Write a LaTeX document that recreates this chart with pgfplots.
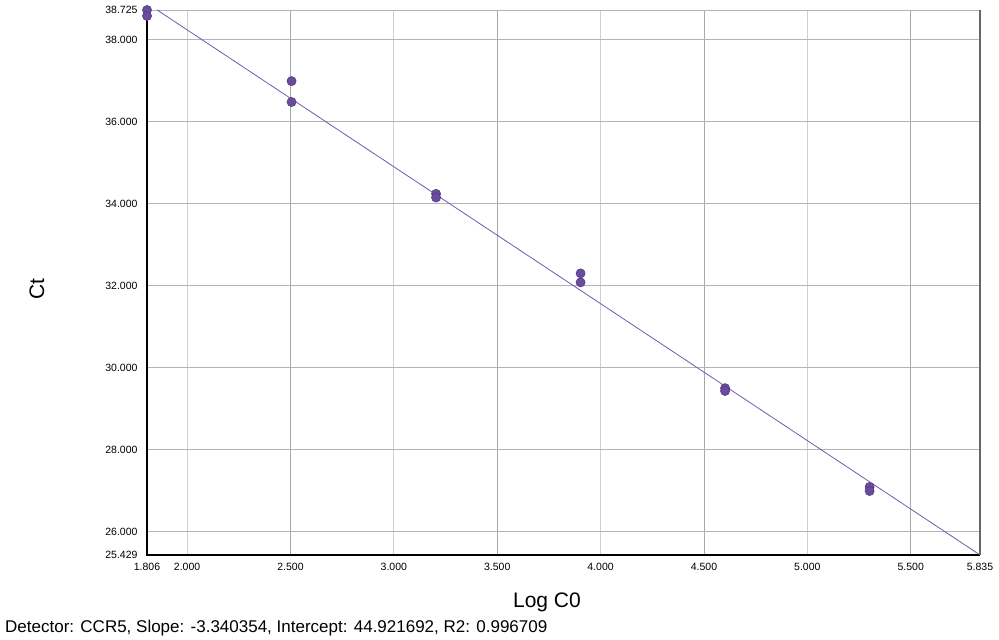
\documentclass[border=0pt]{standalone}
\usepackage{pgfplots}
\pgfplotsset{compat=1.18}
\usepackage{fontspec}
\setmainfont{Liberation Sans}
\definecolor{pt}{HTML}{6A4C9C}
\definecolor{ptedge}{HTML}{4E3580}
\definecolor{ln}{HTML}{7558A8}
\definecolor{gl}{HTML}{CFCFCF}
\definecolor{gd}{HTML}{A8A8A8}
\definecolor{gh}{HTML}{B4B4B4}
\begin{document}
\begin{tikzpicture}
\useasboundingbox (-147bp,-85bp) rectangle (852bp,555bp);
\begin{axis}[
  at={(0,0)}, anchor=south west,
  scale only axis, width=833bp, height=545bp,
  xmin=1.806, xmax=5.835, ymin=25.429, ymax=38.725,
  xtick={1.806,2,2.5,3,3.5,4,4.5,5,5.5,5.835},
  ytick={25.429,26,28,30,32,34,36,38,38.725},
  major tick length=0pt,
  axis line style={draw=none},
  /pgf/number format/assume math mode=true,
  /pgf/number format/.cd, fixed, fixed zerofill, precision=3, 1000 sep={},
  /pgfplots/.cd,
  tick label style={font=\fontsize{10.5bp}{12bp}\selectfont},
  xticklabel style={yshift=-5bp},
  yticklabel style={xshift=-6bp},
  clip=false,
]
% grid lines
\foreach \x in {2,3,4,5} {\edef\tmp{\noexpand\draw[gl, line width=0.8bp] (axis cs:\x,25.429) -- (axis cs:\x,38.725);}\tmp}
\foreach \x in {2.5,3.5,4.5,5.5} {\edef\tmp{\noexpand\draw[gd, line width=0.8bp] (axis cs:\x,25.429) -- (axis cs:\x,38.725);}\tmp}
\foreach \y in {26,28,30,32,34,36,38} {\edef\tmp{\noexpand\draw[gh, line width=0.8bp] (axis cs:1.806,\y) -- (axis cs:5.835,\y);}\tmp}
\draw[gh, line width=0.8bp] (axis cs:1.806,38.725) -- (axis cs:5.835,38.725);
\draw[gray!80!black, line width=1.5bp] (axis cs:5.835,25.429) -- (axis cs:5.835,38.725);
\draw[black, line width=2bp] (axis cs:1.806,38.725) -- (axis cs:1.806,25.429) -- (axis cs:5.835,25.429);
% regression line
\addplot[ln, line width=0.8bp] coordinates {(1.8551,38.725) (5.835,25.4307)};
% data
\addplot[only marks, mark=*, mark size=4.6bp, mark options={fill=pt, draw=ptedge, line width=0.5bp}] coordinates {
(1.80618,38.725) (1.80618,38.58)
(2.50515,36.99) (2.50515,36.48)
(3.20412,34.24) (3.20412,34.15)
(3.90309,32.30) (3.90309,32.08)
(4.60206,29.50) (4.60206,29.43)
(5.30103,27.09) (5.30103,26.99)
};
\end{axis}
\node[font=\fontsize{21bp}{24bp}\selectfont, rotate=90, inner sep=0pt] at (-110bp,266bp) {Ct};
\node[font=\fontsize{21bp}{24bp}\selectfont, inner sep=0pt] at (400bp,-47bp) {Log C0};
\node[anchor=base west, font=\fontsize{17bp}{20bp}\selectfont, inner sep=0pt] at (-142bp,-77bp) {Detector: CCR5, Slope: -3.340354, Intercept: 44.921692, R2: 0.996709};
\end{tikzpicture}
\end{document}
